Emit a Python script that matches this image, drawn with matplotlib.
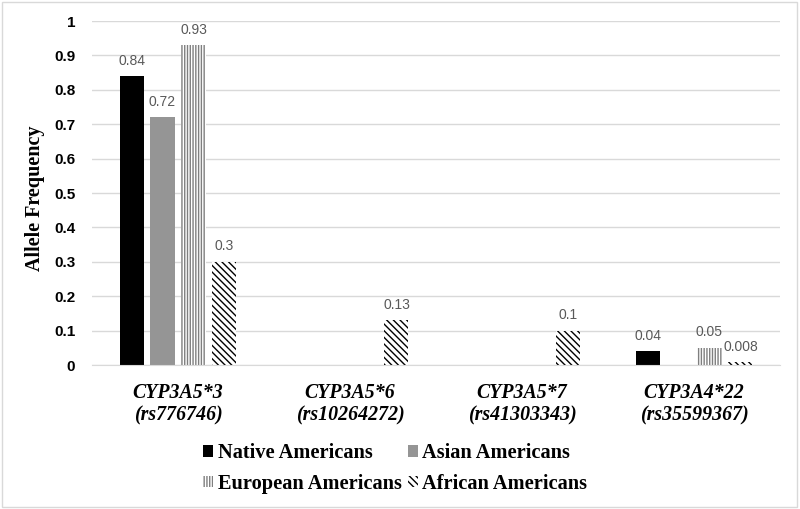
import matplotlib
matplotlib.use("Agg")
from matplotlib import pyplot as plt
from matplotlib.patches import Patch, Rectangle
import numpy as np

plt.rcParams["hatch.linewidth"] = 1.0

# data
genes = ["CYP3A5*3\n(rs776746)", "CYP3A5*6\n(rs10264272)",
         "CYP3A5*7\n(rs41303343)", "CYP3A4*22\n(rs35599367)"]
groups = ["Native Americans", "Asian Americans",
          "European Americans", "African Americans"]
native = [0.84, 0, 0, 0.04]
asian = [0.72, 0, 0, 0]
european = [0.93, 0, 0, 0.05]
african = [0.3, 0.13, 0.1, 0.008]
yticks = [0, 0.1, 0.2, 0.3, 0.4, 0.5, 0.6, 0.7, 0.8, 0.9, 1]

series = [native, asian, european, african]
styles = [
    dict(facecolor="black", edgecolor="black"),
    dict(facecolor="#959595", edgecolor="#959595"),
    dict(facecolor="white", edgecolor="#7f7f7f", hatch="||||||"),
    dict(facecolor="white", edgecolor="black", hatch="\\\\\\\\\\"),
]

serif = "Liberation Serif"

fig = plt.figure(figsize=(8, 5.09), dpi=100)
ax = fig.add_axes([0.115, 0.2829, 0.86, 0.6758])

x = np.arange(len(genes))
width = 0.14
step = 0.18
offsets = [-1.5 * step, -0.5 * step, 0.5 * step, 1.5 * step]

for vals, off, st in zip(series, offsets, styles):
    bars = ax.bar(x + off, vals, width, linewidth=0, **st)
    for b, v in zip(bars, vals):
        if v == 0:
            continue
        ax.annotate(("%g" % v), (b.get_x() + b.get_width() / 2, v),
                    xytext=(0, 6), textcoords="offset points",
                    ha="center", va="bottom", fontsize=10,
                    family="Liberation Sans", color="#595959",
                    annotation_clip=False)

ax.set_xlim(-0.5, len(genes) - 0.5)
ax.set_ylim(0, 1)
ax.set_yticks(yticks)
ax.set_yticklabels(["%g" % t for t in yticks], family="Liberation Sans",
                   fontweight="bold", fontsize=11, color="black")
ax.set_xticks(x)
ax.set_xticklabels(genes, family=serif, fontweight="bold",
                   fontstyle="italic", fontsize=14.3, linespacing=1.15)
ax.tick_params(axis="y", length=0, pad=12)
ax.tick_params(axis="x", length=0, pad=13)
ax.grid(axis="y", color="#d9d9d9", linewidth=1)
ax.set_axisbelow(True)
for s in ["top", "right", "left"]:
    ax.spines[s].set_visible(False)
ax.spines["bottom"].set_color("#d9d9d9")

fig.text(35 / 800, 1 - 198 / 509, "Allele Frequency", rotation=90,
         ha="center", va="center", family=serif,
         fontweight="bold", fontsize=14.5)

handles = [Patch(linewidth=0, **st) for st in styles]
order = [0, 2, 1, 3]
fig.legend([handles[i] for i in order], [groups[i] for i in order],
           ncol=2, loc="upper left", bbox_to_anchor=(193 / 800, 1 - 433 / 509),
           frameon=False, handlelength=0.5, handleheight=0.5,
           handletextpad=0.2, columnspacing=0.3, labelspacing=0.52,
           borderpad=0, prop=dict(family=serif, weight="bold", size=14.7))

fig.patches.append(Rectangle((0.002, 0.004), 0.994, 0.992, transform=fig.transFigure,
                             fill=False, edgecolor="#d9d9d9", linewidth=1))

fig.savefig("out.png", dpi=100)
